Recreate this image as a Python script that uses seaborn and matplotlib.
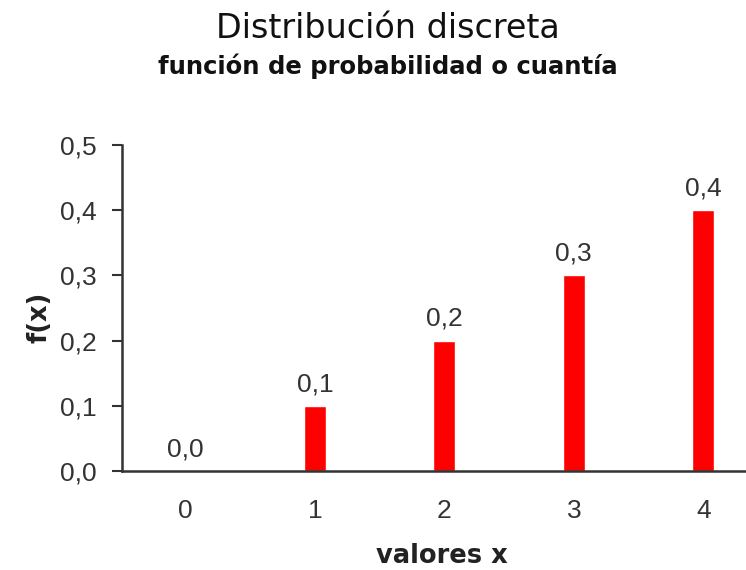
import matplotlib
matplotlib.use("Agg")
import matplotlib.pyplot as plt
import seaborn as sns
import pandas as pd

# Discrete distribution: values and probabilities
valores = [0, 1, 2, 3, 4]
probabilidades = [0.0, 0.1, 0.2, 0.3, 0.4]
y_ticks = [0.0, 0.1, 0.2, 0.3, 0.4, 0.5]

titulo = "Distribución discreta"
subtitulo = "función de probabilidad o cuantía"
etiqueta_x = "valores x"
etiqueta_y = "f(x)"


def coma(v):
    return f"{v:.1f}".replace(".", ",")


sns.set_style("white")
plt.rcParams["font.family"] = ["DejaVu Sans"]

num_font = ["Liberation Sans", "DejaVu Sans"]
num_size = 19

df = pd.DataFrame({"x": [str(v) for v in valores], "p": probabilidades})

fig = plt.figure(figsize=(7.46, 5.70), dpi=100)
ax = fig.add_axes([0.1635, 0.1737, 0.8365, 0.5719])

sns.barplot(data=df, x="x", y="p", color="#ff0000", saturation=1,
            width=0.17, ax=ax)

txt_col = "#333333"
ax.bar_label(ax.containers[0], labels=[coma(v) for v in probabilidades],
             padding=7, fontsize=num_size, color=txt_col, family=num_font)

ax.set_ylim(0, 0.5)
ax.set_xlim(-0.49, 4.33)
ax.set_yticks(y_ticks)
ax.set_yticklabels([coma(v) for v in y_ticks])

ax.tick_params(axis="y", which="both", direction="out", length=7, width=1.5,
               color=txt_col, labelsize=num_size, labelcolor=txt_col, pad=11,
               left=True)
ax.tick_params(axis="x", length=0, labelsize=num_size, labelcolor=txt_col,
               pad=20)
for lab in ax.get_xticklabels() + ax.get_yticklabels():
    lab.set_family(num_font)

for s in ["top", "right"]:
    ax.spines[s].set_visible(False)
for s in ["left", "bottom"]:
    ax.spines[s].set_color(txt_col)
    ax.spines[s].set_linewidth(1.8)

ax.set_xlabel(etiqueta_x, fontsize=18.5, fontweight="bold", color="#222222")
ax.xaxis.set_label_coords(0.513, -0.222)
ax.set_ylabel(etiqueta_y, fontsize=18.5, fontweight="bold", color="#222222")
ax.yaxis.set_label_coords(-0.111, 0.47)

fig.text(0.52, 0.950, titulo, ha="center", va="center", fontsize=24,
         color="#111111")
fig.text(0.52, 0.884, subtitulo, ha="center", va="center", fontsize=17.5,
         fontweight="bold", color="#111111")

fig.savefig("out.png", dpi=100)
